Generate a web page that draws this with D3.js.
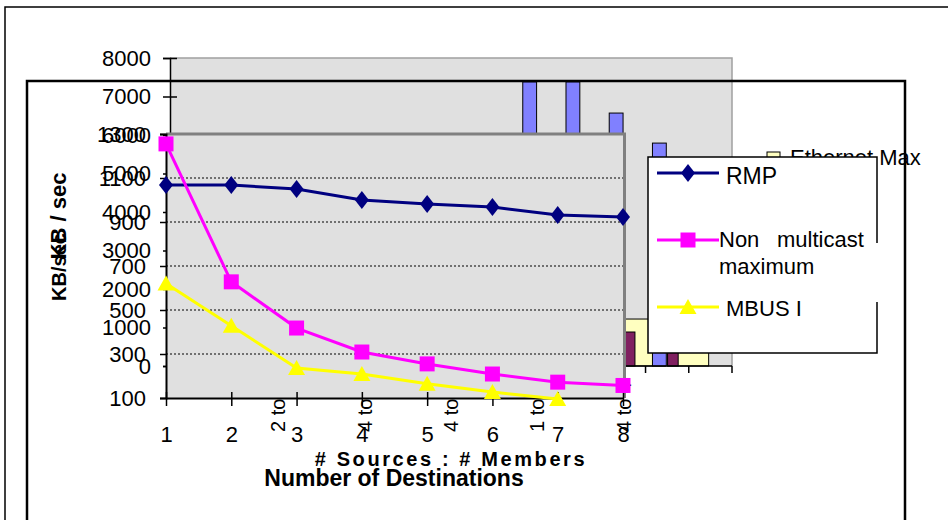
<!DOCTYPE html>
<html>
<head>
<meta charset="utf-8">
<script src="https://cdn.jsdelivr.net/npm/d3@7"></script>
<style>
  body { margin: 0; background: #fff; }
  text { font-family: Arial, "Liberation Sans", sans-serif; fill: #000; }
</style>
</head>
<body>
<div id="chart"></div>
<script>
// ---- back chart (bars) data ----
const backCats = d3.range(13);
const backLabels = ["", "", "2 to 1", "", "4 to 1", "", "4 to 2", "", "1 to 8", "", "4 to 4", "", ""];
const blueVals = [5600, 5500, 5450, 5400, 5300, 5250, 5200, 5100, 7380, 7380, 6570, 5790, 0];
const maroonVals = [900, 900, 900, 900, 890, 890, 885, 885, 885, 885, 883, 880, 0];
const ethernetMax = [1220, 1220, 1220, 1220, 1220, 1220, 1220, 1220, 1220, 1220, 1220, 1220, 0];
const backYTicks = [0, 1000, 2000, 3000, 4000, 5000, 6000, 7000, 8000];

// ---- front chart (lines) data ----
const destinations = [1, 2, 3, 4, 5, 6, 7, 8];
const rmp = [1068, 1068, 1050, 1000, 982, 968, 932, 923];
const nonMulticast = [1255, 628, 418, 309, 255, 209, 172, 157];
const mbus = [620, 428, 236, 209, 165, 127, 95];
const frontYTicks = [100, 300, 500, 700, 900, 1100, 1300];

const W = 948, H = 520;
const svg = d3.select("#chart").append("svg")
    .attr("width", W)
    .attr("height", H);

svg.append("rect").attr("width", W).attr("height", H).attr("fill", "#fff");

// =================== BACK CHART ===================
const back = svg.append("g");

// outer border
back.append("path")
    .attr("d", "M5,520V7H948")
    .attr("fill", "none").attr("stroke", "#000").attr("stroke-width", 1.5);

const bx = d3.scaleBand().domain(backCats).range([170, 732]).padding(0);
const by = d3.scaleLinear().domain([0, 8000]).range([366, 58]);
const bw = bx.bandwidth();

// plot area
back.append("rect")
    .attr("x", 170).attr("y", 58)
    .attr("width", 732 - 170).attr("height", 366 - 58)
    .attr("fill", "#E0E0E0");
back.append("path")
    .attr("d", "M170,58H732V366")
    .attr("fill", "none").attr("stroke", "#A0A0A0").attr("stroke-width", 1.5);

// bars: ethernet max first, then blue and maroon
back.append("g").selectAll("rect")
  .data(ethernetMax)
  .join("rect")
    .attr("x", (d, i) => bx(i) + 0.51 * bw)
    .attr("y", d => by(d))
    .attr("width", 0.95 * bw)
    .attr("height", d => by(0) - by(d))
    .attr("fill", "#FFFFC0")
    .attr("stroke", "#000").attr("stroke-width", 1);

back.append("g").selectAll("rect")
  .data(blueVals)
  .join("rect")
    .attr("x", (d, i) => bx(i) + 0.16 * bw)
    .attr("y", d => by(d))
    .attr("width", 0.32 * bw)
    .attr("height", d => by(0) - by(d))
    .attr("fill", "#8080FF")
    .attr("stroke", "#000").attr("stroke-width", 1);

back.append("g").selectAll("rect")
  .data(maroonVals)
  .join("rect")
    .attr("x", (d, i) => bx(i) + 0.51 * bw)
    .attr("y", d => by(d))
    .attr("width", 0.245 * bw)
    .attr("height", d => by(0) - by(d))
    .attr("fill", "#802060")
    .attr("stroke", "#000").attr("stroke-width", 1);

// y axis
const bYAxis = back.append("g")
    .attr("transform", "translate(170,0)")
    .call(d3.axisLeft(by).tickValues(backYTicks).tickFormat(d3.format("d"))
      .tickSizeOuter(0).tickSize(7).tickPadding(12));
bYAxis.select(".domain").attr("stroke", "#000").attr("stroke-width", 1.5);
bYAxis.selectAll(".tick line").attr("x1", 7).attr("x2", -7).attr("stroke-width", 1.5);
bYAxis.selectAll(".tick text")
    .attr("x", -19)
    .style("font-size", "22px").style("font-family", "Arial, 'Liberation Sans', sans-serif");

// x axis
back.append("line")
    .attr("x1", 170).attr("x2", 732).attr("y1", 366).attr("y2", 366)
    .attr("stroke", "#000").attr("stroke-width", 1.5);
back.append("g").selectAll("line")
  .data(backCats.concat([backCats.length]))
  .join("line")
    .attr("x1", d => d < backCats.length ? bx(d) : bx.range()[1])
    .attr("x2", d => d < backCats.length ? bx(d) : bx.range()[1])
    .attr("y1", 366).attr("y2", 373)
    .attr("stroke", "#000").attr("stroke-width", 1.5);

back.append("g").selectAll("text")
  .data(backCats)
  .join("text")
    .attr("transform", d => `translate(${bx(d) + bw / 2 + 7},432) rotate(-90)`)
    .attr("text-anchor", "start")
    .style("font-size", "20px")
    .text(d => backLabels[d]);

// axis titles
back.append("text")
    .attr("transform", "translate(66,216) rotate(-90)")
    .attr("text-anchor", "middle")
    .style("font-size", "22px").style("font-weight", "bold")
    .text("KB / sec");

back.append("text")
    .attr("x", (170 + 732) / 2).attr("y", 466)
    .attr("text-anchor", "middle")
    .style("font-size", "20px").style("font-weight", "bold")
    .style("letter-spacing", "2.6px")
    .text("# Sources : # Members");

// legend (only top entry visible)
back.append("rect")
    .attr("x", 767).attr("y", 152).attr("width", 13).attr("height", 13)
    .attr("fill", "#FFFFC0").attr("stroke", "#000");
back.append("text")
    .attr("x", 790).attr("y", 165)
    .style("font-size", "22px")
    .text("Ethernet Max");

// =================== FRONT CHART ===================
const front = svg.append("g");

front.append("path")
    .attr("d", "M27,520V81H905V520")
    .attr("fill", "none").attr("stroke", "#000").attr("stroke-width", 2.5);

const fx = d3.scaleLinear().domain([1, 8]).range([166, 623]);
const fy = d3.scaleLinear().domain([100, 1300]).range([398, 134]);

// plot area
front.append("rect")
    .attr("x", 166).attr("y", 134)
    .attr("width", 625 - 166).attr("height", 398 - 134)
    .attr("fill", "#E0E0E0");
front.append("path")
    .attr("d", "M166,134H624.5V398")
    .attr("fill", "none").attr("stroke", "#808080").attr("stroke-width", 3);

// gridlines
front.append("g").selectAll("line")
  .data(frontYTicks.slice(1, -1))
  .join("line")
    .attr("x1", 166).attr("x2", 623)
    .attr("y1", d => fy(d)).attr("y2", d => fy(d))
    .attr("stroke", "#000").attr("stroke-width", 1)
    .attr("stroke-dasharray", "2,2");

// axes
const fYAxis = front.append("g")
    .attr("transform", "translate(166,0)")
    .call(d3.axisLeft(fy).tickValues(frontYTicks).tickFormat(d3.format("d"))
      .tickSizeOuter(0).tickSize(6).tickPadding(14));
fYAxis.select(".domain").attr("stroke", "#000").attr("stroke-width", 2);
fYAxis.selectAll(".tick line").attr("stroke-width", 1.5);
fYAxis.selectAll(".tick text")
    .attr("x", -20)
    .style("font-size", "22px").style("font-family", "Arial, 'Liberation Sans', sans-serif");

const fXAxis = front.append("g")
    .attr("transform", "translate(0,398)")
    .call(d3.axisBottom(fx).tickValues(destinations).tickSizeOuter(0).tickFormat(d3.format("d")));
fXAxis.select(".domain").attr("stroke", "#000").attr("stroke-width", 2);
fXAxis.selectAll(".tick line").attr("y1", -6).attr("y2", 8).attr("stroke-width", 1.5);
fXAxis.selectAll(".tick text")
    .attr("y", 44).attr("dy", null)
    .style("font-size", "22px").style("font-family", "Arial, 'Liberation Sans', sans-serif");

// series
const diamond = "M0,-9L7,0L0,9L-7,0Z";
const square = "M-7.5,-7.5H7.5V7.5H-7.5Z";
const triangle = "M0,-8L8.5,7H-8.5Z";

const series = [
  {name: "RMP", values: rmp, color: "#000080", shape: diamond},
  {name: "Non multicast maximum", values: nonMulticast, color: "#FF00FF", shape: square},
  {name: "MBUS I", values: mbus, color: "#FFFF00", shape: triangle}
];

const line = d3.line()
    .x((d, i) => fx(destinations[i]))
    .y(d => fy(d));

series.forEach(s => {
  front.append("path")
      .datum(s.values)
      .attr("d", line)
      .attr("fill", "none")
      .attr("stroke", s.color)
      .attr("stroke-width", 3);
  front.append("g").selectAll("path")
    .data(s.values)
    .join("path")
      .attr("d", s.shape)
      .attr("transform", (d, i) => `translate(${fx(destinations[i])},${fy(d)})`)
      .attr("fill", s.color);
});

// axis titles
front.append("text")
    .attr("transform", `translate(66,${(134 + 398) / 2 + 1}) rotate(-90)`)
    .attr("text-anchor", "middle")
    .style("font-size", "20px").style("font-weight", "bold")
    .text("KB/sec");

front.append("text")
    .attr("x", 394).attr("y", 486)
    .attr("text-anchor", "middle")
    .style("font-size", "23px").style("font-weight", "bold")
    .text("Number of Destinations");

// legend
const lg = front.append("g");
lg.append("rect")
    .attr("x", 648).attr("y", 157).attr("width", 229).attr("height", 196)
    .attr("fill", "#fff");
lg.append("path")
    .attr("d", "M877,243V157H648V353H877V302")
    .attr("fill", "none").attr("stroke", "#000").attr("stroke-width", 1.5);

const legendRows = [173, 240, 307];
series.forEach((s, i) => {
  const y = legendRows[i];
  lg.append("line")
      .attr("x1", 657).attr("x2", 719).attr("y1", y).attr("y2", y)
      .attr("stroke", s.color).attr("stroke-width", 3);
  lg.append("path")
      .attr("d", s.shape)
      .attr("transform", `translate(688,${y})`)
      .attr("fill", s.color);
});
lg.append("text").attr("x", 726).attr("y", 184).style("font-size", "23px").text("RMP");
lg.append("text").attr("x", 719).attr("y", 247).style("font-size", "22px").text("Non");
lg.append("text").attr("x", 777).attr("y", 247).style("font-size", "22px").text("multicast");
lg.append("text").attr("x", 719).attr("y", 274).style("font-size", "22px").text("maximum");
lg.append("text").attr("x", 726).attr("y", 316).style("font-size", "22px").text("MBUS I");
</script>
</body>
</html>
